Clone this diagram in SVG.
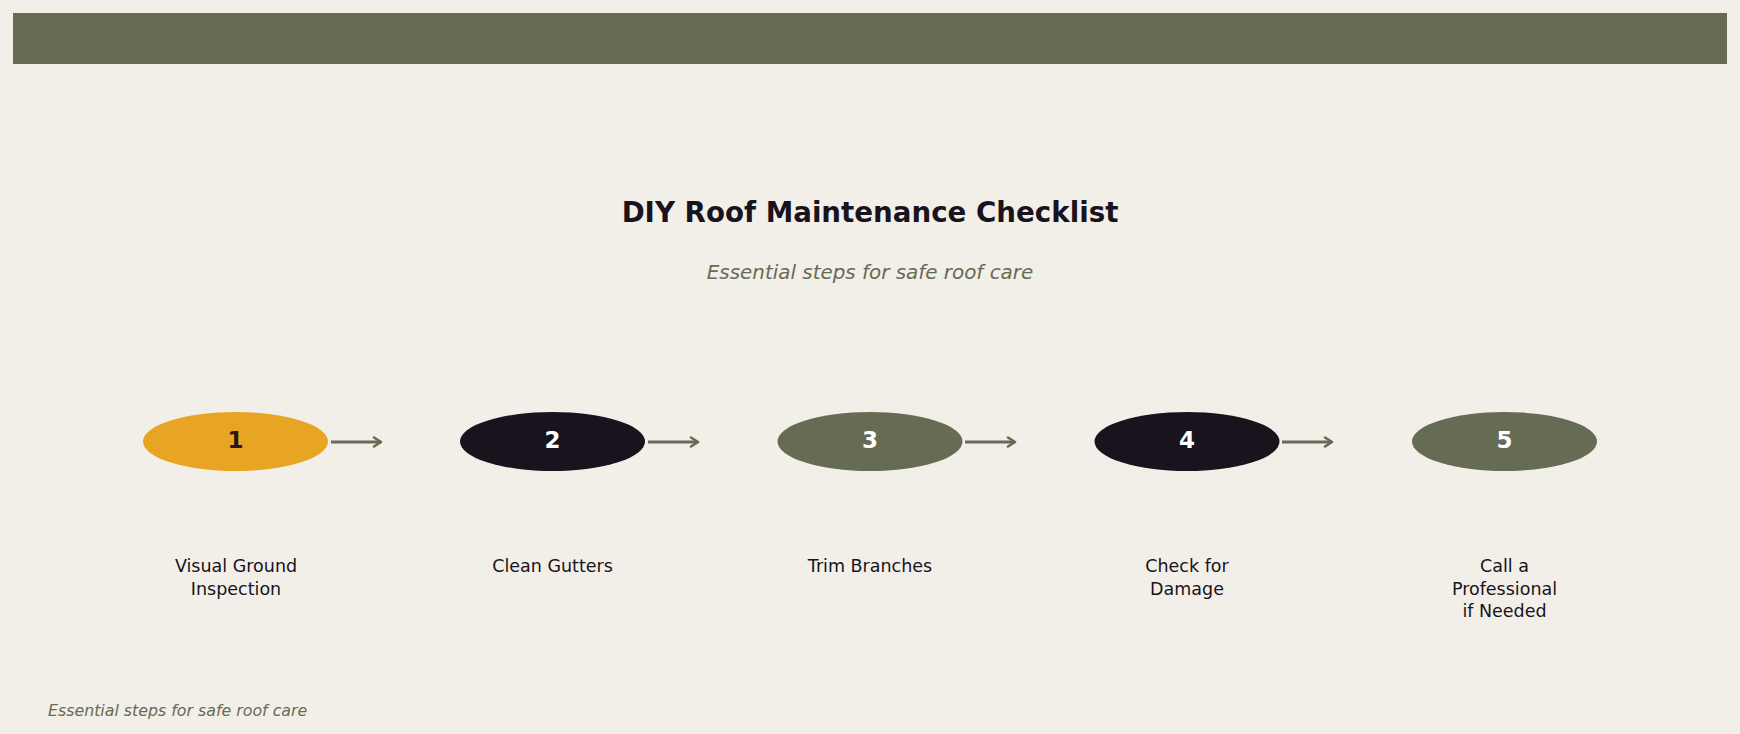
<svg xmlns="http://www.w3.org/2000/svg" width="1740" height="734" viewBox="0 0 1740 734">
  <defs>
    <style>
      .bg { fill: #f2efe8; }
      .bar { fill: #666b53; }
      .title { font-family: "DejaVu Sans", sans-serif; font-weight: bold; font-size: 27.7px; fill: #18131c; text-anchor: middle; }
      .sub { font-family: "DejaVu Sans", sans-serif; font-style: italic; font-size: 19.9px; fill: #666b53; text-anchor: middle; }
      .foot { font-family: "DejaVu Sans", sans-serif; font-style: italic; font-size: 15.8px; fill: #666b53; }
      .num { font-family: "DejaVu Sans", sans-serif; font-weight: bold; font-size: 23px; text-anchor: middle; dominant-baseline: central; }
      .lbl { font-family: "DejaVu Sans", sans-serif; font-size: 17.5px; fill: #18131c; text-anchor: middle; }
      .conn { stroke: #666b53; stroke-width: 3; fill: none; }
    </style>
    <marker id="arr" viewBox="0 0 12 12" refX="10" refY="6" markerWidth="12" markerHeight="12" markerUnits="userSpaceOnUse" orient="auto">
      <path d="M3,1.5 L10,6 L3,10.5" fill="none" stroke="#666b53" stroke-width="2.6" stroke-linecap="round" stroke-linejoin="round"/>
    </marker>
  </defs>
  <rect class="bg" x="0" y="0" width="1740" height="734"/>
  <rect class="bar" x="13" y="13" width="1714" height="51"/>
  <text class="title" x="870" y="222">DIY Roof Maintenance Checklist</text>
  <text class="sub" x="870" y="279">Essential steps for safe roof care</text>

  <g id="connectors">
    <line class="conn" x1="331" y1="442" x2="381" y2="442" marker-end="url(#arr)"/>
    <line class="conn" x1="648" y1="442" x2="698" y2="442" marker-end="url(#arr)"/>
    <line class="conn" x1="965" y1="442" x2="1015" y2="442" marker-end="url(#arr)"/>
    <line class="conn" x1="1282" y1="442" x2="1332" y2="442" marker-end="url(#arr)"/>
  </g>

  <g id="step1">
    <ellipse cx="235.5" cy="441.5" rx="92.5" ry="29.5" fill="#e8a423"/>
    <text class="num" x="235.5" y="440" fill="#2a1414">1</text>
    <text class="lbl" x="236" y="572">Visual Ground</text>
    <text class="lbl" x="236" y="595">Inspection</text>
  </g>
  <g id="step2">
    <ellipse cx="552.5" cy="441.5" rx="92.5" ry="29.5" fill="#18131c"/>
    <text class="num" x="552.5" y="440" fill="#ffffff">2</text>
    <text class="lbl" x="552.5" y="572">Clean Gutters</text>
  </g>
  <g id="step3">
    <ellipse cx="870" cy="441.5" rx="92.5" ry="29.5" fill="#666b53"/>
    <text class="num" x="870" y="440" fill="#ffffff">3</text>
    <text class="lbl" x="870" y="572">Trim Branches</text>
  </g>
  <g id="step4">
    <ellipse cx="1187" cy="441.5" rx="92.5" ry="29.5" fill="#18131c"/>
    <text class="num" x="1187" y="440" fill="#ffffff">4</text>
    <text class="lbl" x="1187" y="572">Check for</text>
    <text class="lbl" x="1187" y="595">Damage</text>
  </g>
  <g id="step5">
    <ellipse cx="1504.5" cy="441.5" rx="92.5" ry="29.5" fill="#666b53"/>
    <text class="num" x="1504.5" y="440" fill="#ffffff">5</text>
    <text class="lbl" x="1504.5" y="572">Call a</text>
    <text class="lbl" x="1504.5" y="595">Professional</text>
    <text class="lbl" x="1504.5" y="617">if Needed</text>
  </g>

  <text class="foot" x="48" y="716">Essential steps for safe roof care</text>
</svg>
